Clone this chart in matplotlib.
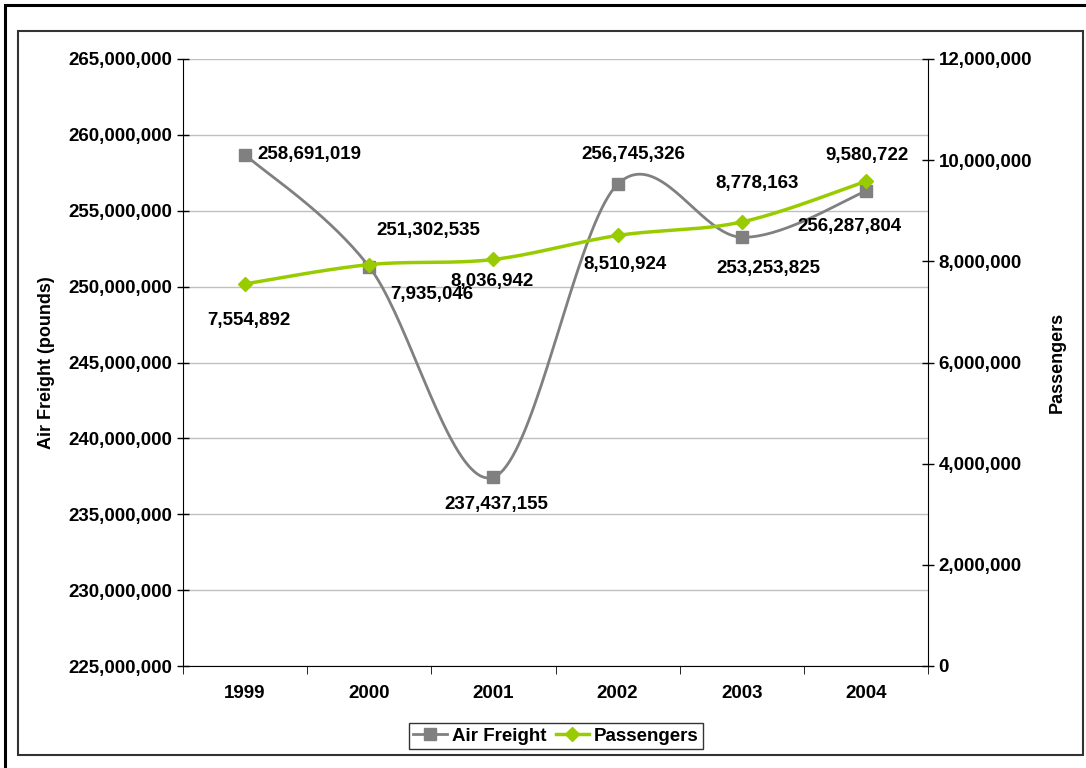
import numpy as np
import matplotlib
matplotlib.use("Agg")
import matplotlib.pyplot as plt
from matplotlib import font_manager as fm
from matplotlib import patheffects as pe
from matplotlib.patches import Rectangle
from matplotlib.ticker import FuncFormatter, MultipleLocator

years = ["1999", "2000", "2001", "2002", "2003", "2004"]
freight = [258691019, 251302535, 237437155, 256745326, 253253825, 256287804]
passengers = [7554892, 7935046, 8036942, 8510924, 8778163, 9580722]

# label offsets (pixels) from each point, Excel-style placement
freight_off = [(12, 0, "left"), (59, 36, "center"), (3, -27, "center"),
               (16, 30, "center"), (27, -31, "center"), (-16, -35, "center")]
pass_off = [(4, -37, "center"), (63, -30, "center"), (-1, -22, "center"),
            (7, -29, "center"), (15, 38, "center"), (1, 26, "center")]

plt.rcParams["font.family"] = ["Liberation Sans", "DejaVu Sans"]
plt.rcParams["font.weight"] = "bold"
bold_path = fm.findfont(fm.FontProperties(family="Liberation Sans", weight="bold"))
fake_bold = "bold" not in bold_path.lower()

GRAY = "#808080"
GREEN = "#99CC00"
FS = 13.5


def smooth(y, n=40):
    # Excel-like smoothed line (Catmull-Rom / cubic Bezier through the points)
    y = np.asarray(y, dtype=float)
    x = np.arange(len(y), dtype=float)
    px = np.concatenate([[x[0]], x, [x[-1]]])
    py = np.concatenate([[y[0]], y, [y[-1]]])
    xs, ys = [], []
    t = np.linspace(0, 1, n)
    for i in range(len(y) - 1):
        p0x, p1x, p2x, p3x = px[i], px[i + 1], px[i + 2], px[i + 3]
        p0y, p1y, p2y, p3y = py[i], py[i + 1], py[i + 2], py[i + 3]
        c1x = p1x + (p2x - p0x) / 6
        c1y = p1y + (p2y - p0y) / 6
        c2x = p2x - (p3x - p1x) / 6
        c2y = p2y - (p3y - p1y) / 6
        b = [(1 - t) ** 3, 3 * (1 - t) ** 2 * t, 3 * (1 - t) * t ** 2, t ** 3]
        xs.append(b[0] * p1x + b[1] * c1x + b[2] * c2x + b[3] * p2x)
        ys.append(b[0] * p1y + b[1] * c1y + b[2] * c2y + b[3] * p2y)
    return np.concatenate(xs), np.concatenate(ys)


fig = plt.figure(figsize=(10.86, 7.68), dpi=100)
fig.patches.append(Rectangle((5 / 1086, -0.1), 1.2, 1.1 - 5 / 768, transform=fig.transFigure,
                             fill=False, edgecolor="black", linewidth=2.2))
fig.patches.append(Rectangle((18 / 1086, 1 - 755 / 768), (1083 - 18) / 1086, (755 - 31) / 768,
                             transform=fig.transFigure, fill=False, edgecolor="#333333", linewidth=1.5))

ax = fig.add_axes([183 / 1086, 1 - 666 / 768, (928 - 183) / 1086, (666 - 59) / 768])
ax2 = ax.twinx()

x = np.arange(len(years))
fmt = FuncFormatter(lambda v, p: f"{int(v):,}")

sx, sy = smooth(freight)
ax.plot(sx, sy, color=GRAY, linewidth=2, zorder=3)
ax.plot(x, freight, linestyle="none", marker="s", markersize=8, color=GRAY, zorder=4)
ax.set_ylim(225000000, 265000000)
ax.set_xlim(-0.5, len(years) - 0.5)
ax.yaxis.set_major_locator(MultipleLocator(5000000))
ax.yaxis.set_major_formatter(fmt)
ax.grid(axis="y", color="#c0c0c0", linewidth=1)
ax.set_axisbelow(True)

sx2, sy2 = smooth(passengers)
ax2.plot(sx2, sy2, color=GREEN, linewidth=2.5, zorder=3)
ax2.plot(x, passengers, linestyle="none", marker="D", markersize=7, color=GREEN, zorder=4)
ax2.set_ylim(0, 12000000)
ax2.yaxis.set_major_locator(MultipleLocator(2000000))
ax2.yaxis.set_major_formatter(fmt)

for a in (ax, ax2):
    a.spines["top"].set_visible(False)
    a.tick_params(axis="y", labelsize=FS, length=8, direction="inout", width=1)
ax.spines["right"].set_visible(False)
ax2.spines["left"].set_visible(False)
ax2.spines["bottom"].set_visible(False)
ax.spines["left"].set_color("black")
ax2.spines["right"].set_color("black")

ax.set_xticks(x)
ax.set_xticklabels(years)
ax.set_xticks(np.arange(-0.5, len(years)), minor=True)
ax.tick_params(axis="x", which="major", length=0, labelsize=FS, pad=14)
ax.tick_params(axis="x", which="minor", length=6, direction="out")

ax.set_ylabel("Air Freight (pounds)", fontsize=13, fontweight="bold", labelpad=10)
ax2.set_ylabel("Passengers", fontsize=13, fontweight="bold", labelpad=12)

for i, v in enumerate(freight):
    dx, dy, ha = freight_off[i]
    ax.annotate(f"{v:,}", (x[i], v), xytext=(dx, dy), textcoords="offset pixels",
                ha=ha, va="center", fontsize=FS, fontweight="bold", zorder=6,
                annotation_clip=False)
for i, v in enumerate(passengers):
    dx, dy, ha = pass_off[i]
    ax2.annotate(f"{v:,}", (x[i], v), xytext=(dx, dy), textcoords="offset pixels",
                 ha=ha, va="center", fontsize=FS, fontweight="bold", zorder=6,
                 annotation_clip=False)

h1 = plt.Line2D([], [], color=GRAY, linewidth=2, marker="s", markersize=8)
h2 = plt.Line2D([], [], color=GREEN, linewidth=2.5, marker="D", markersize=7)
leg = fig.legend([h1, h2], ["Air Freight", "Passengers"], loc="center",
                 bbox_to_anchor=(556 / 1086, 1 - 736 / 768), ncol=2, frameon=True,
                 fancybox=False, edgecolor="black", fontsize=FS, handlelength=1.8,
                 handletextpad=0.25, columnspacing=0.5, borderpad=0.25, borderaxespad=0)
leg.get_frame().set_linewidth(1)

if fake_bold:
    fig.canvas.draw()
    for t in fig.findobj(matplotlib.text.Text):
        if t.get_text():
            t.set_path_effects([pe.withStroke(linewidth=1.2, foreground=t.get_color())])

fig.savefig("out.png", dpi=100)
